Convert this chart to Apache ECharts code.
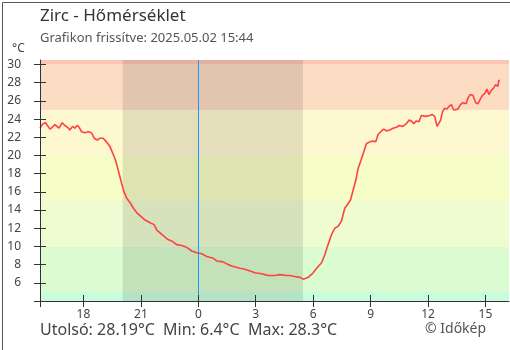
<!DOCTYPE html>
<html>
<head>
<meta charset="utf-8">
<script src="https://cdn.jsdelivr.net/npm/echarts@6/dist/echarts.min.js"></script>
<style>
html,body{margin:0;padding:0;background:#fff;}
#chart{width:510px;height:350px;}
</style>
</head>
<body>
<div id="chart"></div>
<script>
// Hours relative to midnight of 2025.05.02 (negative = previous day)
const hours = [-8.27,-8.12,-7.98,-7.88,-7.75,-7.63,-7.49,-7.41,-7.28,-7.11,-6.97,-6.83,-6.71,-6.57,-6.45,-6.33,-6.22,-6.10,-5.93,-5.75,-5.58,-5.44,-5.27,-5.14,-4.97,-4.80,-4.62,-4.50,-4.36,-4.26,-4.15,-4.05,-3.99,-3.88,-3.74,-3.56,-3.39,-3.21,-3.00,-2.78,-2.52,-2.31,-2.17,-2.00,-1.83,-1.62,-1.39,-1.13,-0.87,-0.61,-0.34,-0.08,0.00,0.18,0.44,0.52,0.78,0.96,1.30,1.56,1.83,2.18,2.44,2.70,2.96,3.31,3.48,3.65,4.00,4.26,4.61,4.78,5.04,5.31,5.48,5.62,5.74,5.83,6.00,6.26,6.44,6.61,6.78,6.96,7.13,7.30,7.48,7.65,7.82,7.95,8.09,8.23,8.35,8.47,8.61,8.78,8.96,9.13,9.27,9.39,9.57,9.69,9.83,10.00,10.17,10.35,10.49,10.69,10.87,11.01,11.13,11.25,11.39,11.53,11.65,11.74,11.88,12.09,12.23,12.35,12.47,12.57,12.66,12.75,12.87,12.99,13.09,13.22,13.34,13.44,13.56,13.69,13.82,13.91,14.00,14.08,14.21,14.35,14.49,14.61,14.73,14.84,14.96,15.08,15.18,15.31,15.43,15.53,15.65,15.70,15.73];
const temps = [23.0,23.5,23.6,23.5,22.9,23.1,23.4,23.2,23.0,23.6,23.3,23.1,22.8,23.2,23.0,23.3,23.1,22.6,22.5,22.6,22.5,21.9,21.7,21.9,21.9,21.5,21.0,20.4,19.7,19.0,18.1,17.3,16.8,16.0,15.3,14.8,14.2,13.7,13.3,12.9,12.6,12.4,11.8,11.5,11.2,10.8,10.6,10.2,10.1,9.9,9.5,9.3,9.4,9.2,8.9,8.8,8.7,8.4,8.3,8.0,7.8,7.6,7.5,7.3,7.1,7.0,6.9,6.8,6.8,6.9,6.8,6.8,6.7,6.6,6.4,6.5,6.6,6.8,7.1,7.8,8.2,9.1,10.2,11.3,12.0,12.2,12.8,14.2,14.7,15.1,16.2,17.3,18.6,19.3,20.2,21.3,21.5,21.6,21.5,22.3,22.7,22.9,22.7,22.8,23.0,23.1,23.3,23.2,23.5,23.9,23.8,23.5,23.8,23.7,24.4,24.6,24.3,24.4,24.5,24.3,23.2,23.1,23.9,24.8,25.2,25.1,25.4,25.6,25.0,24.9,25.1,25.6,25.8,26.0,25.7,26.3,26.7,26.6,25.8,25.7,26.2,26.6,26.8,27.3,26.7,27.2,27.4,27.8,27.6,28.3,28.19];

const xMin = -8.27, xMax = 16.23;
const xTicks = [-6,-3,0,3,6,9,12,15];
const yTicks = [6,8,10,12,14,16,18,20,22,24,26,28,30];
const yMin = 4, yMax = 30.5;
const bandEdges = [4,5,10,15,20,25,30,30.5];
const bandColors = ['#c8fcdc','#dafcd0','#effcd2','#f6fdc6','#fef8d0','#fcdcc2','#fbc6b4'];
const sunset = -3.95, sunrise = 5.47;
const titleText = 'Zirc - Hőmérséklet';
const subtitleText = 'Grafikon frissítve: 2025.05.02 15:44';
const lastText = 'Utolsó: 28.19°C', minText = 'Min: 6.4°C', maxText = 'Max: 28.3°C';

const FONT = '"Noto Sans", "Open Sans", sans-serif';
const chart = echarts.init(document.getElementById('chart'), null, {renderer:'canvas'});

const bandAreas = [];
for (let i = 0; i < bandColors.length; i++) {
  bandAreas.push([{yAxis: bandEdges[i], itemStyle:{color: bandColors[i], opacity:1}}, {yAxis: bandEdges[i+1]}]);
}

chart.setOption({
  animation:false,
  grid:{left:40, right:1, top:60, bottom:49, containLabel:false},
  xAxis:[
    {type:'value', min:xMin, max:xMax, position:'bottom', splitLine:{show:false}, z:10,
      axisLine:{show:true, onZero:false, lineStyle:{color:'#333', width:1}},
      axisTick:{show:true, inside:false, length:6, lineStyle:{color:'#333'}, customValues:[xMin].concat(xTicks)},
      axisLabel:{show:true, margin:8, color:'#444', fontSize:12, fontFamily:FONT, customValues:xTicks,
        formatter:v => String(v < 0 ? v + 24 : v)}},
    {type:'value', min:xMin, max:xMax, position:'bottom', splitLine:{show:false}, z:10,
      axisLine:{show:false, onZero:false},
      axisTick:{show:true, inside:true, length:6, lineStyle:{color:'#333'}, customValues:xTicks},
      axisLabel:{show:false}}
  ],
  yAxis:[
    {type:'value', min:yMin, max:yMax, position:'left', splitLine:{show:false}, z:10,
      axisLine:{show:true, onZero:false, lineStyle:{color:'#333', width:1}},
      axisTick:{show:true, inside:false, length:6, lineStyle:{color:'#333'}, customValues:[yMin].concat(yTicks)},
      axisLabel:{show:true, margin:19, color:'#444', fontSize:12, fontFamily:FONT, customValues:yTicks}},
    {type:'value', min:yMin, max:yMax, position:'left', splitLine:{show:false}, z:10,
      axisLine:{show:false, onZero:false},
      axisTick:{show:true, inside:true, length:6, lineStyle:{color:'#333'}, customValues:yTicks},
      axisLabel:{show:false}}
  ],
  series:[
    {type:'line', data:[], z:1, silent:true,
      markArea:{silent:true, data:bandAreas}},
    {type:'line', data:[], z:2, silent:true,
      markArea:{silent:true, itemStyle:{color:'rgba(0,0,0,0.1)'}, data:[[{xAxis:sunset},{xAxis:sunrise}]]},
      markLine:{silent:true, symbol:'none', label:{show:false}, lineStyle:{color:'#2196f3', width:1, type:'solid'},
        data:[{xAxis:0}]}},
    {type:'line', z:3, showSymbol:false, symbol:'none', silent:true,
      lineStyle:{color:'#ff4242', width:1.6},
      data:hours.map((h,i)=>[h,temps[i]])}
  ],
  graphic:[
    {type:'rect', left:0, top:0, z:100, silent:true,
      shape:{x:0.5, y:0.5, width:509, height:349}, style:{fill:'none', stroke:'#555', lineWidth:1}},
    {type:'text', left:40, top:8, style:{text:titleText, font:'17px '+FONT, fill:'#333'}},
    {type:'text', left:40, top:32, style:{text:subtitleText, font:'13px '+FONT, fill:'#555'}},
    {type:'text', left:12, top:43, style:{text:'°C', font:'12px '+FONT, fill:'#444'}},
    {type:'text', left:40, top:322, style:{text:lastText, font:'16px '+FONT, fill:'#444'}},
    {type:'text', left:163, top:322, style:{text:minText, font:'16px '+FONT, fill:'#444'}},
    {type:'text', left:248, top:322, style:{text:maxText, font:'16px '+FONT, fill:'#444'}},
    {type:'text', left:425, top:322, style:{text:'© Időkép', font:'14px '+FONT, fill:'#555'}}
  ]
});
</script>
</body>
</html>
